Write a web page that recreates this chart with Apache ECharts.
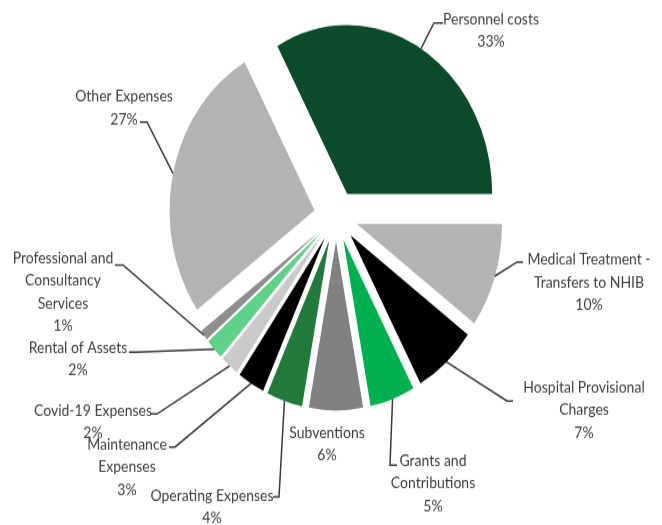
<!DOCTYPE html>
<html>
<head>
<meta charset="utf-8">
<script src="https://cdn.jsdelivr.net/npm/echarts@6/dist/echarts.min.js"></script>
<style>
html, body { margin: 0; padding: 0; background: #fff; overflow: hidden; }
#wrap { width: 662px; height: 525px; overflow: hidden; }
#chart { width: 662px; height: 451px; transform: scaleY(1.165); transform-origin: 0 0; }
</style>
</head>
<body>
<div id="wrap"><div id="chart"></div></div>
<script>
const categories = [
  "Personnel costs", "Other Expenses", "Professional and Consultancy Services",
  "Rental of Assets", "Covid-19 Expenses", "Maintenance Expenses",
  "Operating Expenses", "Subventions", "Grants and Contributions",
  "Hospital Provisional Charges", "Medical Treatment - Transfers to NHIB"
];
const values = [33, 27, 1, 2, 2, 3, 4, 6, 5, 7, 10];
const labelText = [
  "Personnel costs", "Other Expenses", "Professional and\nConsultancy\nServices",
  "Rental of Assets", "Covid-19 Expenses", "Maintenance\nExpenses",
  "Operating Expenses", "Subventions", "Grants and\nContributions",
  "Hospital Provisional\nCharges", "Medical Treatment -\nTransfers to NHIB"
];
const colors = [
  "#0b4a2a", "#b3b3b3", "#8e8e8e", "#5fd18a", "#cacaca", "#000000",
  "#217a3c", "#818181", "#00b050", "#000000", "#b3b3b3"
];
// label layout (page px): [centerX, centerY, elbowX, elbowY, endX, endY]
const labelPos = [
  [491, 30, 434, 23, 443, 23],
  [124, 108, 147, 122, 140, 122],
  [63, 292, 123, 265, 115, 265],
  [78, 359, 136, 352, 129, 352],
  [93, 422, 157, 414, 150, 414],
  [127, 467, 175, 447, 169, 447],
  [212, 507, 279, 497, 273, 497],
  [327, 444],
  [433, 483, 390, 465, 397, 465],
  [584, 410, 507, 401, 513, 401],
  [589, 282, 517, 262, 523, 262]
];

const S = 1.165;          // vertical stretch of the reference picture
const CX = 336, CY = 216 / S, R = 145, OFF = 22;
const total = values.reduce((a, b) => a + b, 0);
let acc = 0;
const mids = values.map(v => { const a0 = acc; acc += v; return (a0 + v / 2) / total * 2 * Math.PI; });
function startPoint(i) {
  const a = mids[i];
  return [CX + (R + OFF) * Math.cos(a), CY - (R + OFF) * Math.sin(a)];
}

const chart = echarts.init(document.getElementById('chart'), null, { renderer: 'canvas' });
chart.setOption({
  backgroundColor: '#ffffff',
  animation: false,
  series: [{
    // exploded slices
    type: 'pie',
    center: [CX, CY],
    radius: [0, R],
    startAngle: 0,
    clockwise: false,
    selectedMode: 'multiple',
    selectedOffset: OFF,
    silent: true,
    itemStyle: { borderWidth: 0 },
    select: { itemStyle: { borderWidth: 0 } },
    label: { show: false },
    labelLine: { show: false },
    data: categories.map((name, i) => ({
      name: name,
      value: values[i],
      selected: true,
      itemStyle: { color: colors[i] },
      select: { itemStyle: { color: colors[i] } }
    }))
  }, {
    // same pie, invisible, carrying the data labels
    type: 'pie',
    center: [CX, CY],
    radius: [0, R],
    startAngle: 0,
    clockwise: false,
    silent: true,
    z: 3,
    avoidLabelOverlap: false,
    itemStyle: { color: 'rgba(0,0,0,0)', borderWidth: 0 },
    label: {
      show: true,
      position: 'outside',
      color: '#404040',
      fontFamily: 'Lato',
      fontSize: 14,
      lineHeight: 19.5,
      align: 'center',
      formatter: p => labelText[p.dataIndex] + '\n' + Math.round(p.percent) + '%'
    },
    labelLine: { show: true, lineStyle: { color: '#3a3a3a', width: 1.5 } },
    labelLayout: function (p) {
      const i = p.dataIndex;
      const L = labelPos[i];
      const res = { x: L[0], y: L[1] / S, align: 'center', verticalAlign: 'middle' };
      if (L.length > 2) {
        res.labelLinePoints = [startPoint(i), [L[2], L[3] / S], [L[4], L[5] / S]];
      }
      return res;
    },
    data: categories.map((name, i) => ({
      name: name,
      value: values[i],
      labelLine: { show: labelPos[i].length > 2 }
    }))
  }]
});
</script>
</body>
</html>
